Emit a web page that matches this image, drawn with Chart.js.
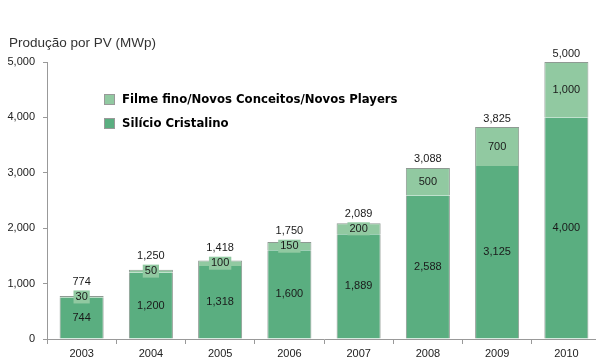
<!DOCTYPE html>
<html>
<head>
<meta charset="utf-8">
<script src="https://cdn.jsdelivr.net/npm/chart.js@4/dist/chart.umd.min.js"></script>
<style>
  html, body { margin: 0; padding: 0; background: #fff; overflow: hidden; }
  #wrap { position: relative; width: 601px; height: 360px; }
</style>
</head>
<body>
<div id="wrap"><canvas id="c" width="601" height="360"></canvas></div>
<script>
// Anos e produção (MWp) por tecnologia
const anos = ['2003', '2004', '2005', '2006', '2007', '2008', '2009', '2010'];
const silicioCristalino = [744, 1200, 1318, 1600, 1889, 2588, 3125, 4000];
const filmeFino = [30, 50, 100, 150, 200, 500, 700, 1000];
const eixoY = [0, 1000, 2000, 3000, 4000, 5000];

const tituloEixo = 'Produção por PV (MWp)';
const nomeFilme = 'Filme fino/Novos Conceitos/Novos Players';
const nomeSilicio = 'Silício Cristalino';

const corClara = '#91c9a1';
const corEscura = '#5aae80';
const corBorda = '#8f9a93';
const fonte = '"Liberation Sans", Arial, sans-serif';

const fmt = v => v.toLocaleString('en-US');

// título, legenda e rótulos de valor desenhados sobre o gráfico
const extras = {
  id: 'extras',
  afterDatasetsDraw(chart) {
    const ctx = chart.ctx;
    ctx.save();

    // título do eixo
    ctx.fillStyle = '#333';
    ctx.font = '13.5px ' + fonte;
    ctx.textAlign = 'left';
    ctx.textBaseline = 'middle';
    ctx.fillText(tituloEixo, 9, 43);

    // legenda
    const itens = [[nomeFilme, corClara, 100], [nomeSilicio, corEscura, 124]];
    itens.forEach(([txt, cor, cy]) => {
      ctx.fillStyle = cor;
      ctx.fillRect(104.5, cy - 5.5, 10, 10);
      ctx.strokeStyle = '#999';
      ctx.lineWidth = 1;
      ctx.strokeRect(104.5, cy - 5.5, 10, 10);
      ctx.fillStyle = '#000';
      ctx.font = 'bold 13px "DejaVu Sans Condensed", "DejaVu Sans", sans-serif';
      ctx.textAlign = 'left';
      ctx.fillText(txt, 122, cy);
    });

    // rótulos dos segmentos e totais
    const m0 = chart.getDatasetMeta(0);
    const m1 = chart.getDatasetMeta(1);
    ctx.font = '11px ' + fonte;
    ctx.textAlign = 'center';
    ctx.textBaseline = 'middle';
    anos.forEach((ano, i) => {
      const b0 = m0.data[i];
      const b1 = m1.data[i];
      // silício cristalino
      ctx.fillStyle = '#1a1a1a';
      ctx.fillText(fmt(silicioCristalino[i]), b0.x, (b0.y + b0.base) / 2);
      // filme fino
      const yc = (b1.y + b1.base) / 2;
      const h = b1.base - b1.y;
      const t = fmt(filmeFino[i]);
      let topo = b1.y;
      if (h < 14) {
        const w = ctx.measureText(t).width + 4;
        ctx.fillStyle = corClara;
        ctx.fillRect(b1.x - w / 2, yc - 6.5, w, 13);
        topo = Math.min(topo, yc - 6.5);
      }
      ctx.fillStyle = '#1a1a1a';
      ctx.fillText(t, b1.x, yc);
      // total
      const total = silicioCristalino[i] + filmeFino[i];
      ctx.fillStyle = '#1a1a1a';
      ctx.fillText(fmt(total), b1.x, topo - 8.5);
    });
    ctx.restore();
  }
};

new Chart(document.getElementById('c'), {
  type: 'bar',
  data: {
    labels: anos,
    datasets: [
      {
        label: nomeSilicio,
        data: silicioCristalino,
        backgroundColor: corEscura,
        borderColor: corBorda,
        borderWidth: { left: 1, right: 1, top: 0, bottom: 0 },
        borderSkipped: false,
        categoryPercentage: 1,
        barPercentage: 0.636
      },
      {
        label: nomeFilme,
        data: filmeFino,
        backgroundColor: corClara,
        borderColor: corBorda,
        borderWidth: { left: 1, right: 1, top: 1, bottom: 0 },
        borderSkipped: false,
        categoryPercentage: 1,
        barPercentage: 0.636
      }
    ]
  },
  options: {
    responsive: false,
    animation: false,
    events: [],
    layout: { padding: { top: 62, right: 0, left: 0, bottom: 0 } },
    plugins: { legend: { display: false }, tooltip: { enabled: false }, title: { display: false } },
    scales: {
      x: {
        stacked: true,
        grid: { offset: true, drawOnChartArea: false, drawTicks: true, tickLength: 5, color: '#999' },
        border: { display: true, color: '#999', width: 1 },
        ticks: { color: '#222', font: { size: 11, family: fonte }, padding: 3, maxRotation: 0 },
        afterFit(s) { s.height = 21; }
      },
      y: {
        stacked: true,
        min: 0,
        max: 5000,
        afterBuildTicks(s) { s.ticks = eixoY.map(v => ({ value: v })); },
        grid: { drawOnChartArea: false, drawTicks: true, tickLength: 4, color: '#999' },
        border: { display: true, color: '#999', width: 1 },
        ticks: { color: '#222', font: { size: 11, family: fonte }, padding: 8, callback: v => fmt(v) },
        afterFit(s) { s.width = 47; }
      }
    }
  },
  plugins: [extras]
});
</script>
</body>
</html>
